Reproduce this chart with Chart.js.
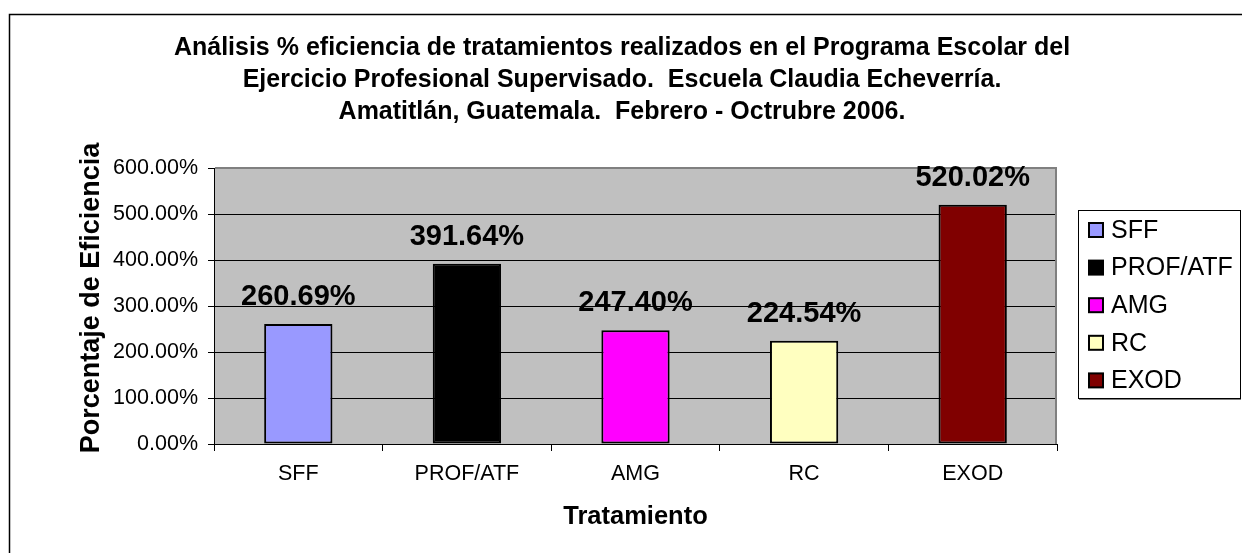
<!DOCTYPE html>
<html><head><meta charset="utf-8">
<script src="https://cdn.jsdelivr.net/npm/chart.js@4/dist/chart.umd.min.js"></script>
<style>html,body{margin:0;padding:0;background:#fff;overflow:hidden}#wrap{width:1242px;height:553px}</style>
</head><body><div id="wrap"><canvas id="c" width="1242" height="553"></canvas></div>
<script>
const categories = ['SFF', 'PROF/ATF', 'AMG', 'RC', 'EXOD'];
const efficiency = [260.69, 391.64, 247.40, 224.54, 520.02];
const barColors = ['#9999FF', '#000000', '#FF00FF', '#FFFFC0', '#800000'];
const yTickValues = [0, 100, 200, 300, 400, 500, 600];
const titleLines = [
  'Análisis % eficiencia de tratamientos realizados en el Programa Escolar del',
  'Ejercicio Profesional Supervisado.  Escuela Claudia Echeverría.',
  'Amatitlán, Guatemala.  Febrero - Octrubre 2006.'
];
const yTitle = 'Porcentaje de Eficiencia';
const xTitle = 'Tratamiento';

const FONT = '"Liberation Sans", Arial, Helvetica, sans-serif';

const decorPlugin = {
  id: 'decor',
  beforeDraw(chart) {
    const ctx = chart.ctx, a = chart.chartArea;
    ctx.save();
    ctx.fillStyle = '#ffffff';
    ctx.fillRect(0, 0, chart.width, chart.height);
    ctx.fillStyle = '#C0C0C0';
    ctx.fillRect(a.left, a.top, a.right - a.left, a.bottom - a.top);
    ctx.restore();
  },
  afterDraw(chart) {
    const ctx = chart.ctx, a = chart.chartArea;
    ctx.save();
    // plot area gray border top/right
    ctx.strokeStyle = '#808080';
    ctx.lineWidth = 2;
    ctx.beginPath();
    ctx.moveTo(a.left + 1, a.top);
    ctx.lineTo(a.right - 1, a.top);
    ctx.lineTo(a.right - 1, a.bottom);
    ctx.stroke();

    // data labels
    const meta = chart.getDatasetMeta(0);
    ctx.fillStyle = '#000';
    ctx.font = 'bold 29px ' + FONT;
    ctx.textAlign = 'center';
    ctx.textBaseline = 'alphabetic';
    meta.data.forEach((el, i) => {
      ctx.fillText(efficiency[i].toFixed(2) + '%', el.x, el.y - 19);
    });

    // title
    ctx.font = 'bold 25px ' + FONT;
    titleLines.forEach((t, i) => ctx.fillText(t, 622, 55 + i * 32));

    // y axis title
    ctx.save();
    ctx.translate(92, 298);
    ctx.rotate(-Math.PI / 2);
    ctx.font = 'bold 27px ' + FONT;
    ctx.textBaseline = 'middle';
    ctx.fillText(yTitle, 0, 0);
    ctx.restore();

    // legend
    const lx = 1078, ly = 210, lw = 163, lh = 189;
    ctx.fillStyle = '#ffffff';
    ctx.fillRect(lx, ly, lw, lh);
    ctx.strokeStyle = '#000';
    ctx.lineWidth = 1;
    ctx.strokeRect(lx + 0.5, ly + 0.5, lw - 1, lh - 1);
    ctx.strokeStyle = '#808080';
    ctx.beginPath();
    ctx.moveTo(lx + 1, ly + lh + 0.5);
    ctx.lineTo(lx + lw, ly + lh + 0.5);
    ctx.stroke();
    ctx.font = '25px ' + FONT;
    ctx.textAlign = 'left';
    ctx.textBaseline = 'middle';
    categories.forEach((c, i) => {
      const cy = 230 + i * 37.6;
      ctx.fillStyle = barColors[i];
      ctx.fillRect(1089, cy - 7, 14, 14);
      ctx.strokeStyle = '#000';
      ctx.lineWidth = 2;
      ctx.strokeRect(1089, cy - 7, 14, 14);
      ctx.fillStyle = '#000';
      ctx.fillText(c, 1111, cy + 1);
    });

    // outer border
    ctx.strokeStyle = '#000';
    ctx.lineWidth = 1.5;
    ctx.beginPath();
    ctx.moveTo(9.5, chart.height + 2);
    ctx.lineTo(9.5, 14.5);
    ctx.lineTo(chart.width + 2, 14.5);
    ctx.stroke();
    ctx.restore();
  }
};

new Chart(document.getElementById('c'), {
  type: 'bar',
  data: {
    labels: categories,
    datasets: [{
      data: efficiency,
      backgroundColor: barColors,
      borderColor: '#000000',
      borderWidth: 2,
      borderSkipped: false,
      categoryPercentage: 1,
      barPercentage: 0.405
    }]
  },
  options: {
    responsive: false,
    animation: false,
    devicePixelRatio: 1,
    layout: { padding: { left: 0, top: 168, right: 185, bottom: 0 } },
    plugins: { legend: { display: false }, tooltip: { enabled: false }, title: { display: false } },
    scales: {
      x: {
        grid: { offset: true, drawOnChartArea: false, color: '#000', tickLength: 7, lineWidth: 1 },
        border: { color: '#000', width: 1 },
        ticks: { color: '#000', font: { family: FONT, size: 21.5 }, padding: 10 },
        title: { display: true, text: xTitle, color: '#000', font: { family: FONT, size: 25.5, weight: 'bold' }, padding: { top: 0, bottom: 21 } },
        afterFit(s) { s.height = 109; }
      },
      y: {
        min: yTickValues[0],
        max: yTickValues[yTickValues.length - 1],
        afterBuildTicks(s) { s.ticks = yTickValues.map(v => ({ value: v })); },
        grid: { color: '#000', tickLength: 6, lineWidth: 1 },
        border: { color: '#000', width: 1 },
        ticks: { color: '#000', font: { family: FONT, size: 21.5 }, padding: 10, callback: v => v.toFixed(2) + '%' },
        title: { display: false },
        afterFit(s) { s.width = 214; }
      }
    }
  },
  plugins: [decorPlugin]
});
</script>
</body></html>
